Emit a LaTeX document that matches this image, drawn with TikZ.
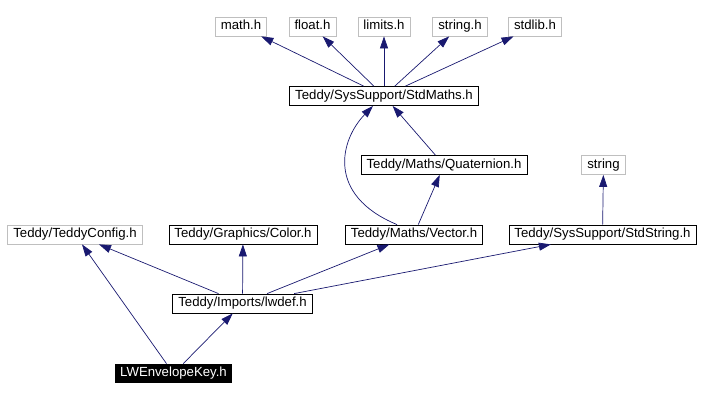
\documentclass[tikz,border=0pt]{standalone}
\usepackage{fontspec}
\setmainfont{Liberation Sans}
\usetikzlibrary{arrows.meta}
\definecolor{edgeblue}{HTML}{191970}
\definecolor{sysgray}{HTML}{BFBFBF}
\begin{document}
\begin{tikzpicture}[x=1pt,y=-1pt,
  box/.style={rectangle,line width=0.8pt,inner xsep=5.5pt,inner ysep=0pt,
    minimum height=19pt,text height=9.6pt,text depth=2.7pt,
    font=\fontsize{13.2}{15}\selectfont},
  sys/.style={box,draw=sysgray},
  hdr/.style={box,draw=black},
  arr/.style={-{Triangle[length=12pt,width=8pt]},edgeblue,line width=0.7pt}]
\useasboundingbox (0,0) rectangle (702,401);
% system headers
\node[sys] (math) at (241,26.5) {math.h};
\node[sys] (float) at (312.5,26.5) {float.h};
\node[sys] (limits) at (384,26.5) {limits.h};
\node[sys] (stringh) at (460,26.5) {string.h};
\node[sys] (stdlib) at (535,26.5) {stdlib.h};
\node[sys] (string) at (603.5,165) {string};
\node[sys] (config) at (75,234.5) {Teddy/TeddyConfig.h};
% project headers
\node[hdr] (stdmaths) at (384,96) {Teddy/SysSupport/StdMaths.h};
\node[hdr] (quat) at (444,165) {Teddy/Maths/Quaternion.h};
\node[hdr] (color) at (243,234.5) {Teddy/Graphics/Color.h};
\node[hdr] (vector) at (414,234.5) {Teddy/Maths/Vector.h};
\node[hdr] (stdstring) at (602.5,234.5) {Teddy/SysSupport/StdString.h};
\node[hdr] (iwdef) at (242.5,303.5) {Teddy/Imports/lwdef.h};
\node[box,fill=black,text=white] (key) at (173.5,373.5) {LWEnvelopeKey.h};
% includes
\foreach \a/\b in {stdmaths/math,stdmaths/float,stdmaths/limits,
  stdmaths/stringh,stdmaths/stdlib,quat/stdmaths,vector/quat,
  stdstring/string,iwdef/config,iwdef/color,iwdef/vector,
  iwdef/stdstring,key/config,key/iwdef}
  \draw[arr] (\a) -- (\b);
\draw[arr] ([xshift=-17pt]vector.north) .. controls (326,195) and (340,140) .. ([xshift=-11pt]stdmaths.south);
\end{tikzpicture}
\end{document}
